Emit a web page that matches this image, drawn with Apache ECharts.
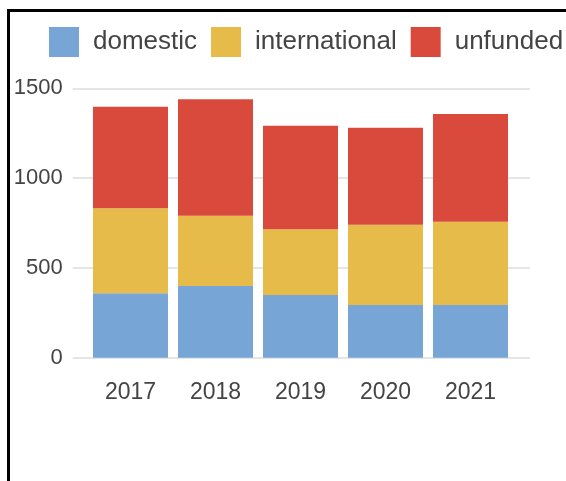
<!DOCTYPE html>
<html>
<head>
<meta charset="utf-8">
<script src="https://cdn.jsdelivr.net/npm/echarts@6/dist/echarts.min.js"></script>
<style>
  html, body { margin: 0; padding: 0; background: #fff; overflow: hidden; }
  #frame { position: absolute; left: 7px; top: 9px; width: 620px; height: 520px; border: 3px solid #000; box-sizing: border-box; }
  #chart { position: absolute; left: 0; top: 0; width: 566px; height: 481px; }
</style>
</head>
<body>
<div id="frame"></div>
<div id="chart"></div>
<script>
// values
const years = ['2017', '2018', '2019', '2020', '2021'];
const domestic = [359, 399, 349, 294, 293];
const international = [473, 392, 366, 446, 464];
const unfunded = [565, 648, 577, 541, 600];
const yTicks = [0, 500, 1000, 1500];

const colors = ['#77a6d6', '#e6bb4a', '#d94a3d'];

const chart = echarts.init(document.getElementById('chart'));

function barSeries(name, data) {
    return {
        name: name,
        type: 'bar',
        stack: 'total',
        xAxisIndex: 1,
        yAxisIndex: 1,
        barWidth: 75,
        data: data
    };
}

const option = {
    animation: false,
    color: colors,
    textStyle: { fontFamily: 'Liberation Sans, Arial, sans-serif' },
    legend: {
        left: 44,
        top: 22,
        width: 800,
        orient: 'horizontal',
        icon: 'rect',
        itemWidth: 30,
        itemHeight: 30,
        itemGap: 14,
        textStyle: { fontSize: 26, color: '#444', padding: [0, 0, 0, 9] }
    },
    grid: [
        // gridlines + y labels span the full plot width
        { left: 72.7, right: 36, top: 88.3, bottom: 123.3 },
        // bars sit in a narrower band
        { left: 88, right: 53, top: 88.3, bottom: 123.3 }
    ],
    xAxis: [
        { gridIndex: 0, type: 'category', data: years, show: false },
        {
            gridIndex: 1,
            type: 'category',
            data: years,
            axisLine: { show: false },
            axisTick: { show: false },
            axisLabel: { fontSize: 23, color: '#444', margin: 23 }
        }
    ],
    yAxis: [
        {
            gridIndex: 0,
            type: 'value',
            min: yTicks[0],
            max: yTicks[yTicks.length - 1],
            interval: 500,
            axisLine: { show: false },
            axisTick: { show: false },
            axisLabel: { fontSize: 22, color: '#444', margin: 10, formatter: v => String(v) },
            splitLine: { lineStyle: { color: '#dddddd', width: 1.5 } }
        },
        {
            gridIndex: 1,
            type: 'value',
            min: yTicks[0],
            max: yTicks[yTicks.length - 1],
            interval: 500,
            show: false,
            splitLine: { show: false }
        }
    ],
    series: [
        barSeries('domestic', domestic),
        barSeries('international', international),
        barSeries('unfunded', unfunded)
    ]
};

chart.setOption(option);
</script>
</body>
</html>
